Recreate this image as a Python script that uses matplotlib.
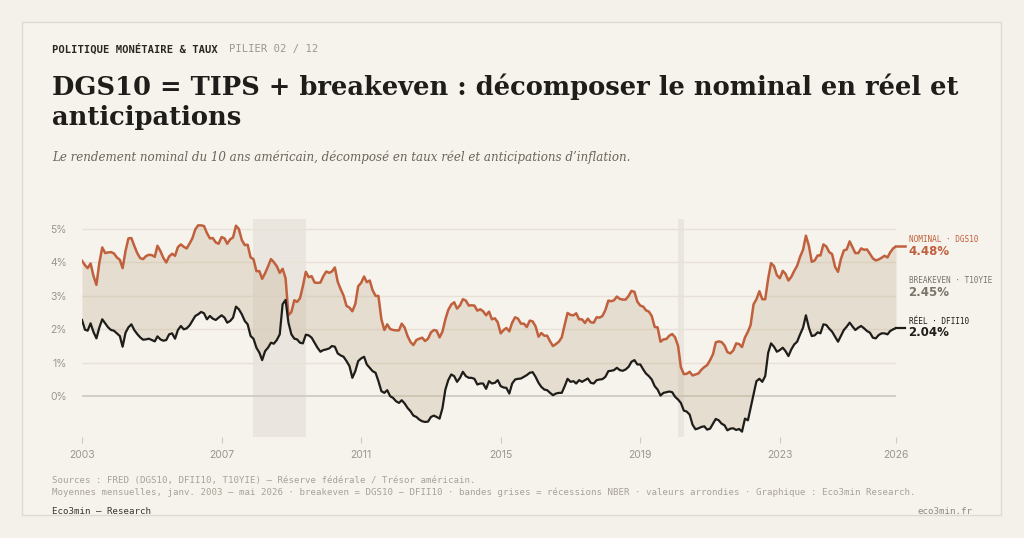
import numpy as np
import pandas as pd
import matplotlib
matplotlib.use("Agg")
import matplotlib.pyplot as plt
from matplotlib.patches import Rectangle

# Rendement nominal 10 ans (DGS10), moyennes mensuelles janv. 2003 - mai 2026
nominal = [
    4.05, 3.92, 3.83, 3.97, 3.60, 3.33, 3.98, 4.45, 4.28, 4.30, 4.31, 4.27,  # 2003
    4.15, 4.08, 3.83, 4.35, 4.72, 4.73, 4.50, 4.28, 4.13, 4.10, 4.19, 4.23,  # 2004
    4.22, 4.17, 4.50, 4.34, 4.14, 4.00, 4.18, 4.26, 4.20, 4.46, 4.54, 4.47,  # 2005
    4.42, 4.57, 4.72, 4.99, 5.11, 5.11, 5.09, 4.88, 4.72, 4.73, 4.60, 4.56,  # 2006
    4.76, 4.72, 4.56, 4.69, 4.75, 5.10, 5.00, 4.67, 4.52, 4.53, 4.15, 4.10,  # 2007
    3.74, 3.74, 3.51, 3.68, 3.88, 4.10, 4.01, 3.89, 3.69, 3.81, 3.53, 2.42,  # 2008
    2.52, 2.87, 2.82, 2.93, 3.29, 3.72, 3.56, 3.59, 3.40, 3.39, 3.40, 3.59,  # 2009
    3.73, 3.69, 3.73, 3.85, 3.42, 3.20, 3.01, 2.70, 2.65, 2.54, 2.76, 3.29,  # 2010
    3.39, 3.58, 3.41, 3.46, 3.17, 3.00, 3.00, 2.30, 1.98, 2.15, 2.01, 1.98,  # 2011
    1.97, 1.97, 2.17, 2.05, 1.80, 1.62, 1.53, 1.68, 1.72, 1.75, 1.65, 1.72,  # 2012
    1.91, 1.98, 1.96, 1.76, 1.93, 2.30, 2.58, 2.74, 2.81, 2.62, 2.72, 2.90,  # 2013
    2.86, 2.71, 2.72, 2.71, 2.56, 2.60, 2.54, 2.42, 2.53, 2.30, 2.33, 2.21,  # 2014
    1.88, 1.98, 2.04, 1.94, 2.20, 2.36, 2.32, 2.17, 2.17, 2.07, 2.26, 2.24,  # 2015
    2.09, 1.78, 1.89, 1.81, 1.81, 1.64, 1.50, 1.56, 1.63, 1.76, 2.14, 2.49,  # 2016
    2.43, 2.42, 2.48, 2.30, 2.30, 2.19, 2.32, 2.21, 2.20, 2.36, 2.35, 2.40,  # 2017
    2.58, 2.86, 2.84, 2.87, 2.98, 2.91, 2.89, 2.89, 3.00, 3.15, 3.12, 2.83,  # 2018
    2.71, 2.68, 2.57, 2.53, 2.40, 2.07, 2.06, 1.63, 1.70, 1.71, 1.81, 1.86,  # 2019
    1.76, 1.50, 0.87, 0.66, 0.67, 0.73, 0.62, 0.65, 0.68, 0.79, 0.87, 0.93,  # 2020
    1.08, 1.26, 1.61, 1.64, 1.62, 1.52, 1.32, 1.28, 1.37, 1.58, 1.56, 1.47,  # 2021
    1.76, 1.93, 2.13, 2.75, 2.90, 3.14, 2.90, 2.90, 3.52, 3.98, 3.89, 3.62,  # 2022
    3.53, 3.75, 3.66, 3.46, 3.57, 3.75, 3.90, 4.17, 4.38, 4.80, 4.50, 4.02,  # 2023
    4.06, 4.21, 4.21, 4.54, 4.48, 4.31, 4.25, 3.87, 3.72, 4.10, 4.36, 4.39,  # 2024
    4.63, 4.45, 4.28, 4.28, 4.42, 4.38, 4.39, 4.26, 4.12, 4.06, 4.09, 4.14,  # 2025
    4.20, 4.15, 4.30, 4.42, 4.48,                                            # 2026
]

# Taux réel 10 ans (DFII10)
reel = [
    2.28, 1.99, 1.96, 2.18, 1.92, 1.73, 2.05, 2.30, 2.18, 2.06, 1.98, 1.96,  # 2003
    1.88, 1.80, 1.48, 1.90, 2.06, 2.15, 1.98, 1.86, 1.76, 1.69, 1.70, 1.72,  # 2004
    1.68, 1.64, 1.79, 1.70, 1.66, 1.68, 1.85, 1.88, 1.72, 1.98, 2.10, 2.00,  # 2005
    2.03, 2.12, 2.25, 2.40, 2.45, 2.52, 2.48, 2.30, 2.40, 2.32, 2.28, 2.35,  # 2006
    2.42, 2.35, 2.20, 2.25, 2.35, 2.68, 2.60, 2.45, 2.25, 2.15, 1.80, 1.72,  # 2007
    1.45, 1.30, 1.08, 1.35, 1.45, 1.60, 1.57, 1.68, 1.85, 2.75, 2.88, 2.20,  # 2008
    1.85, 1.72, 1.70, 1.60, 1.58, 1.84, 1.82, 1.75, 1.60, 1.45, 1.33, 1.38,  # 2009
    1.40, 1.43, 1.50, 1.48, 1.28, 1.22, 1.18, 1.05, 0.90, 0.55, 0.75, 1.05,  # 2010
    1.13, 1.18, 0.95, 0.85, 0.75, 0.70, 0.45, 0.15, 0.10, 0.18, 0.00, -0.05,  # 2011
    -0.15, -0.20, -0.12, -0.22, -0.35, -0.45, -0.58, -0.62, -0.70, -0.75, -0.77, -0.76,  # 2012
    -0.62, -0.58, -0.62, -0.67, -0.36, 0.20, 0.48, 0.65, 0.60, 0.43, 0.55, 0.73,  # 2013
    0.60, 0.55, 0.55, 0.52, 0.35, 0.38, 0.38, 0.22, 0.45, 0.38, 0.40, 0.48,  # 2014
    0.30, 0.26, 0.25, 0.08, 0.38, 0.50, 0.52, 0.53, 0.58, 0.63, 0.70, 0.72,  # 2015
    0.58, 0.40, 0.28, 0.20, 0.18, 0.10, 0.03, 0.08, 0.10, 0.10, 0.30, 0.52,  # 2016
    0.43, 0.45, 0.38, 0.48, 0.43, 0.48, 0.53, 0.40, 0.38, 0.48, 0.50, 0.51,  # 2017
    0.58, 0.75, 0.76, 0.78, 0.85, 0.78, 0.76, 0.80, 0.88, 1.03, 1.08, 0.95,  # 2018
    0.95, 0.80, 0.68, 0.60, 0.50, 0.30, 0.20, 0.02, 0.10, 0.12, 0.14, 0.12,  # 2019
    -0.02, -0.10, -0.20, -0.43, -0.46, -0.55, -0.85, -0.99, -0.96, -0.92, -0.90, -1.00,  # 2020
    -0.97, -0.82, -0.68, -0.72, -0.82, -0.87, -1.02, -0.97, -0.96, -1.01, -0.98, -1.06,  # 2021
    -0.67, -0.72, -0.35, 0.05, 0.45, 0.52, 0.43, 0.60, 1.30, 1.58, 1.48, 1.33,  # 2022
    1.38, 1.45, 1.35, 1.20, 1.40, 1.55, 1.63, 1.85, 2.05, 2.42, 2.05, 1.80,  # 2023
    1.82, 1.91, 1.88, 2.15, 2.13, 2.02, 1.93, 1.78, 1.63, 1.80, 1.98, 2.08,  # 2024
    2.20, 2.08, 1.98, 2.05, 2.10, 2.03, 1.95, 1.90, 1.75, 1.73, 1.83, 1.88,  # 2025
    1.88, 1.85, 1.95, 2.00, 2.04,                                            # 2026
]

recessions = [("2007-12-01", "2009-06-01"), ("2020-02-01", "2020-04-01")]
tick_years = ["2003", "2007", "2011", "2015", "2019", "2023", "2026"]

dates = pd.date_range("2003-01-01", periods=len(nominal), freq="MS")
nominal = np.array(nominal)
reel = np.array(reel)
breakeven = nominal - reel

BG = "#f6f3ed"
RUST = "#c0603c"
INK = "#1f1d1a"
GREY = "#9b968d"
MONO = "DejaVu Sans Mono"
SERIF = "DejaVu Serif"

fig = plt.figure(figsize=(10.24, 5.38), dpi=100, facecolor="#f4f1ea")
fig.patches.append(Rectangle((22 / 1024, 1 - 515 / 538), 979 / 1024, 493 / 538,
                             transform=fig.transFigure, facecolor=BG,
                             edgecolor="#dedad1", linewidth=1, zorder=-5))

# en-tete
fig.text(52 / 1024, 1 - 49 / 538, "POLITIQUE MONÉTAIRE & TAUX", family=MONO,
         fontsize=7.6, weight="bold", color="#2b2824", va="center")
fig.text(229 / 1024, 1 - 49 / 538, "PILIER 02 / 12", family=MONO,
         fontsize=7.6, color="#9d978d", va="center")
fig.text(52 / 1024, 1 - 87 / 538,
         "DGS10 = TIPS + breakeven : décomposer le nominal en réel et",
         family=SERIF, fontsize=18.5, weight="bold", color=INK, va="center")
fig.text(52 / 1024, 1 - 117 / 538, "anticipations",
         family=SERIF, fontsize=18.5, weight="bold", color=INK, va="center")
fig.text(52 / 1024, 1 - 157 / 538,
         "Le rendement nominal du 10 ans américain, décomposé en taux réel et anticipations d’inflation.",
         family=SERIF, style="italic", fontsize=8.6, color="#6b6459", va="center")

ax = fig.add_axes([82 / 1024, 1 - 437 / 538, 814 / 1024, 218 / 538])
ax.set_facecolor("none")
ax.set_xlim(dates[0], dates[-1])
ax.set_ylim(-1.22, 5.3)

for start, end in recessions:
    ax.axvspan(pd.Timestamp(start), pd.Timestamp(end), color="#dcd7ce", alpha=0.45,
               lw=0, zorder=0)

for v in [1, 2, 3, 4, 5]:
    ax.axhline(v, color="#e7e1d7", lw=1, zorder=1)
ax.axhline(0, color="#cdc8bf", lw=1.2, zorder=1)

ax.fill_between(dates, reel, nominal, color="#c6b498", alpha=0.35, lw=0, zorder=2)
ax.plot(dates, nominal, color=RUST, lw=1.8, zorder=4)
ax.plot(dates, reel, color=INK, lw=1.6, zorder=4)

# amorce horizontale vers les etiquettes
stub = [dates[-1], dates[-1] + pd.DateOffset(months=3)]
ax.plot(stub, [nominal[-1]] * 2, color=RUST, lw=1.8, clip_on=False, zorder=4)
ax.plot(stub, [reel[-1]] * 2, color=INK, lw=1.6, clip_on=False, zorder=4)

labels = [
    ("NOMINAL · DGS10", f"{nominal[-1]:.2f}%", nominal[-1], RUST),
    ("BREAKEVEN · T10YIE", f"{breakeven[-1] + 0.01:.2f}%", (nominal[-1] + reel[-1]) / 2, "#7a746a"),
    ("RÉEL · DFII10", f"{reel[-1]:.2f}%", reel[-1], INK),
]
for name, val, y, col in labels:
    ax.annotate(name, xy=(dates[-1], y), xytext=(9, 5), textcoords="offset points",
                family=MONO, fontsize=5.6, color=col, va="center", ha="left",
                annotation_clip=False)
    ax.annotate(val, xy=(dates[-1], y), xytext=(9, -3.6), textcoords="offset points",
                family="DejaVu Sans", weight="bold", fontsize=8.5, color=col,
                va="center", ha="left", annotation_clip=False)

ticks = [pd.Timestamp(f"{y}-01-01") for y in tick_years[:-1]] + [dates[-1]]
ax.set_xticks(ticks)
ax.set_xticklabels(tick_years)
ax.set_yticks([0, 1, 2, 3, 4, 5])
ax.set_yticklabels([f"{v}%" for v in range(6)])
ax.tick_params(axis="y", length=0, pad=11, labelsize=7.5, labelcolor=GREY)
ax.tick_params(axis="x", length=4, width=0.8, color="#cfc9bf", pad=5,
               labelsize=7.5, labelcolor=GREY)
for lab in ax.get_xticklabels() + ax.get_yticklabels():
    lab.set_family("Inter")
for s in ax.spines.values():
    s.set_visible(False)

# pied
fig.text(52 / 1024, 1 - 480 / 538,
         "Sources : FRED (DGS10, DFII10, T10YIE) — Réserve fédérale / Trésor américain.",
         family=MONO, fontsize=6.6, color="#a8a298", va="center")
fig.text(52 / 1024, 1 - 492 / 538,
         "Moyennes mensuelles, janv. 2003 – mai 2026 · breakeven = DGS10 − DFII10 · "
         "bandes grises = récessions NBER · valeurs arrondies · Graphique : Eco3min Research.",
         family=MONO, fontsize=6.6, color="#a8a298", va="center")
fig.text(52 / 1024, 1 - 512 / 538, "Eco3min — Research", family=MONO,
         fontsize=6.6, color="#3a3631", va="center")
fig.text(972 / 1024, 1 - 512 / 538, "eco3min.fr", family=MONO,
         fontsize=6.6, color="#8f897f", va="center", ha="right")

fig.savefig("out.png", dpi=100, facecolor=fig.get_facecolor())
